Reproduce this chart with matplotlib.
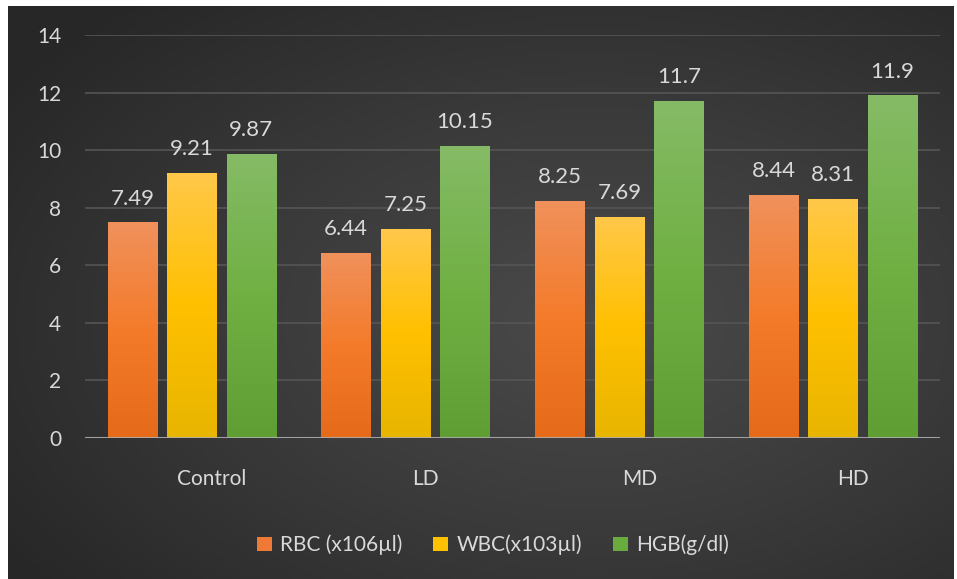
import numpy as np
import matplotlib
matplotlib.use("Agg")
import matplotlib.pyplot as plt
from matplotlib.colors import LinearSegmentedColormap
from matplotlib.transforms import ScaledTranslation

plt.rcParams['font.family'] = ['Lato', 'DejaVu Sans']

groups = ["Control", "LD", "MD", "HD"]
series = ["RBC (x106µl)", "WBC(x103µl)", "HGB(g/dl)"]
rbc = [7.49, 6.44, 8.25, 8.44]
wbc = [9.21, 7.25, 7.69, 8.31]
hgb = [9.87, 10.15, 11.7, 11.9]
value_labels = [["7.49", "6.44", "8.25", "8.44"],
                ["9.21", "7.25", "7.69", "8.31"],
                ["9.87", "10.15", "11.7", "11.9"]]

# top colour, middle, bottom colour of each bar gradient
grads = [["#f0915c", "#f47b2a", "#e56b1a"],
         ["#ffc84a", "#ffc000", "#e8b500"],
         ["#85bb66", "#70b043", "#5e9e33"]]
legend_cols = ["#ef7a35", "#ffc000", "#6aab40"]
txt = "#d9d9d9"

fig = plt.figure(figsize=(9.57, 5.79), dpi=100, facecolor="white")

# radial grey background
bg = fig.add_axes([8 / 957, 0, 946 / 957, 573 / 579])
bg.set_axis_off()
yy, xx = np.mgrid[0:1:300j, 0:1:500j]
r = np.sqrt(((xx - 0.62) / 0.75) ** 2 + ((yy - 0.45) / 0.75) ** 2)
bgcm = LinearSegmentedColormap.from_list("bg", ["#4a4a4a", "#3a3a3a", "#272727"])
bg.imshow(r, cmap=bgcm, vmin=0, vmax=1.0, aspect="auto", extent=(0, 1, 0, 1), origin="lower")
bg.set_xlim(0, 1)
bg.set_ylim(0, 1)

ax = fig.add_axes([85 / 957, 141 / 579, 855 / 957, 403 / 579])
ax.patch.set_alpha(0)

x = np.arange(len(groups))
w = 0.232
step = 0.278
data = [rbc, wbc, hgb]
ax.set_xlim(-0.5, 3.5)
ax.set_ylim(0, 14)

for i, vals in enumerate(data):
    cm = LinearSegmentedColormap.from_list("g%d" % i, grads[i][::-1])
    pos = x + (i - 1) * step
    bars = ax.bar(pos, vals, width=w, color=legend_cols[i], label=series[i], zorder=2)
    for b, lab in zip(bars, value_labels[i]):
        x0 = b.get_x()
        h = b.get_height()
        grad = np.linspace(0, 1, 256).reshape(-1, 1)
        im = ax.imshow(grad, cmap=cm, aspect="auto", origin="lower",
                       extent=(x0, x0 + w, 0, h), zorder=2.5)
        im.set_clip_path(b)
        ax.annotate(lab, (b.get_x() + w / 2, h), xytext=(0, 10), textcoords="offset points",
                    ha="center", va="bottom", color=txt, fontsize=16)

ax.set_xlim(-0.5, 3.5)
ax.set_ylim(0, 14)
ax.set_yticks(np.arange(0, 15, 2))
ax.grid(axis="y", color="#555555", linewidth=1.2, zorder=0)
ax.set_axisbelow(True)
ax.axhline(0, color="#b0b0b0", linewidth=2.2, alpha=0.85, zorder=3)
for s in ax.spines.values():
    s.set_visible(False)
ax.tick_params(axis="y", length=0, pad=17, labelcolor=txt, labelsize=15)
ax.tick_params(axis="x", length=0, pad=22, labelcolor=txt, labelsize=15)
ax.set_xticks(x)
ax.set_xticklabels(groups)
for t in ax.get_xticklabels():
    t.set_transform(t.get_transform() + ScaledTranslation(0.2, 0, fig.dpi_scale_trans))

leg = ax.legend(loc="center", bbox_to_anchor=(493 / 957, 34 / 579), bbox_transform=fig.transFigure,
                ncol=3, frameon=False, fontsize=15, labelcolor=txt,
                handlelength=0.7, handleheight=0.7, handletextpad=0.4, columnspacing=1.5)

fig.savefig("out.png", dpi=100, facecolor=fig.get_facecolor())
